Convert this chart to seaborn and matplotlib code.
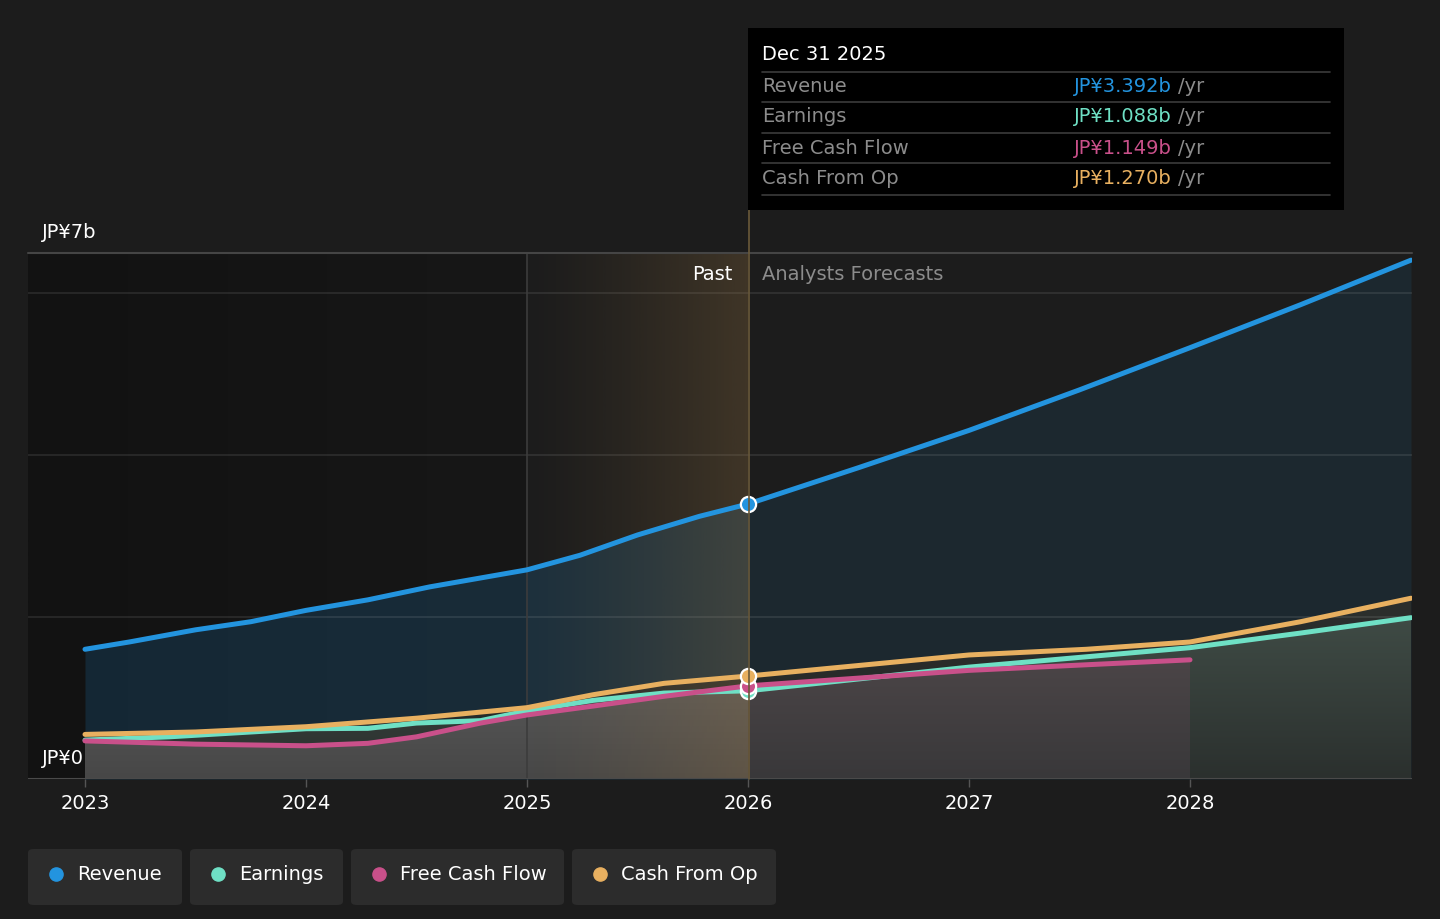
import numpy as np
import pandas as pd
import matplotlib
matplotlib.use("Agg")
import matplotlib.pyplot as plt
from matplotlib.patches import FancyBboxPatch, Rectangle
from matplotlib.lines import Line2D
import seaborn as sns

# ---------------- data (JP¥ billions) ----------------
rev_x = [2023.0, 2023.2, 2023.5, 2023.75, 2024.0, 2024.28, 2024.56, 2025.0, 2025.24, 2025.5, 2025.78, 2026.0,
         2026.5, 2027.0, 2027.5, 2028.0, 2028.5, 2029.0]
rev_y = [1.60, 1.69, 1.84, 1.94, 2.08, 2.21, 2.37, 2.58, 2.76, 3.01, 3.24, 3.392,
         3.84, 4.30, 4.80, 5.32, 5.85, 6.40]

earn_x = [2023.0, 2023.38, 2024.0, 2024.28, 2024.5, 2024.79, 2025.0, 2025.3, 2025.62, 2026.0,
          2027.0, 2028.0, 2028.5, 2029.0]
earn_y = [0.48, 0.52, 0.62, 0.625, 0.69, 0.72, 0.84, 0.97, 1.06, 1.088,
          1.38, 1.62, 1.80, 1.99]

fcf_x = [2023.0, 2023.5, 2024.0, 2024.28, 2024.5, 2024.79, 2025.0, 2025.3, 2025.62, 2026.0, 2027.0, 2028.0]
fcf_y = [0.47, 0.43, 0.41, 0.44, 0.52, 0.69, 0.79, 0.90, 1.02, 1.149, 1.34, 1.47]

cfo_x = [2023.0, 2023.5, 2024.0, 2024.5, 2025.0, 2025.3, 2025.62, 2026.0, 2027.0, 2027.53, 2028.0, 2028.5, 2029.0]
cfo_y = [0.55, 0.58, 0.645, 0.75, 0.88, 1.04, 1.18, 1.27, 1.53, 1.60, 1.69, 1.94, 2.23]

series_names = ["Revenue", "Earnings", "Free Cash Flow", "Cash From Op"]
series_colors = ["#2394df", "#6fe0c5", "#c9508a", "#e8b060"]
tooltip_values = ["JP¥3.392b", "JP¥1.088b", "JP¥1.149b", "JP¥1.270b"]
year_ticks = [2023, 2024, 2025, 2026, 2027, 2028]
y_labels = ["JP¥7b", "JP¥0"]
grid_vals = [2, 4, 6]
past_end = 2025
today = 2026

W, H = 1440, 919
BG = "#1c1c1c"
FS = 14

sns.set_theme(style="dark")
plt.rcParams["font.family"] = ["DejaVu Sans"]

fig = plt.figure(figsize=(W / 100, H / 100), dpi=100, facecolor=BG)

def fx(x):
    return x / W

def fy(y):
    return 1 - y / H

def hex_rgb(h):
    h = h.lstrip("#")
    return np.array([int(h[i:i + 2], 16) for i in (0, 2, 4)]) / 255

ax = fig.add_axes([fx(28), fy(779), (1412 - 28) / W, (779 - 253) / H])
ax.set_facecolor(BG)
x0 = 2023 - 57 / 221
x1 = 2023 + 1327 / 221
ymax = 526 / 81.07

def hgrad(c_left, c_right, alpha_left=1.0, alpha_right=1.0, power=1.0, n=256):
    t = np.linspace(0, 1, n) ** power
    img = np.zeros((1, n, 4))
    a, b = hex_rgb(c_left), hex_rgb(c_right)
    img[0, :, :3] = a + (b - a) * t[:, None]
    img[0, :, 3] = alpha_left + (alpha_right - alpha_left) * t
    return img

def vgrad(c_top, c_bot, n=128):
    t = np.linspace(0, 1, n)
    img = np.zeros((n, 1, 4))
    a, b = hex_rgb(c_bot), hex_rgb(c_top)
    img[:, 0, :3] = a + (b - a) * t[:, None]
    img[:, 0, 3] = 1
    return img

# past darker background
ax.imshow(hgrad("#121212", "#171717"), extent=[x0, past_end, 0, ymax], aspect="auto", zorder=0)

# revenue fills (past brighter, forecast dimmer)
rx = np.array(rev_x); ry = np.array(rev_y)
m_past = rx <= today
m_fc = rx >= today
ax.fill_between(rx[m_past], ry[m_past], 0, color="#2394df", alpha=0.17, lw=0, zorder=1)
ax.fill_between(rx[m_fc], ry[m_fc], 0, color="#2394df", alpha=0.1, lw=0, zorder=1)

def gradient_fill(xs, ys, c_top, c_bot, z, alpha=1.0):
    poly = ax.fill_between(xs, ys, 0, facecolor="none", lw=0)
    top = max(ys)
    im = ax.imshow(vgrad(c_top, c_bot), extent=[min(xs), max(xs), 0, top], origin="lower",
                   aspect="auto", zorder=z, alpha=alpha)
    im.set_clip_path(poly.get_paths()[0], ax.transData)
    return im

gradient_fill(cfo_x, cfo_y, "#2e302d", "#262726", 1.2, alpha=0.9)
gradient_fill(earn_x, earn_y, "#3f4b45", "#2b302e", 1.3)
# free cash flow fill: past (lighter grey) and forecast (warm grey)
fx_arr = np.array(fcf_x); fy_arr = np.array(fcf_y)
gradient_fill(fx_arr[fx_arr <= today], fy_arr[fx_arr <= today], "#575757", "#474747", 1.4)
gradient_fill(fx_arr[fx_arr >= today], fy_arr[fx_arr >= today], "#4b4547", "#39383a", 1.4)

# grid lines (over the fills)
for g in grid_vals:
    ax.axhline(g, color="#ffffff", alpha=0.1, lw=1.2, zorder=1.6)

# highlighted band overlay (brown gradient)
ax.imshow(hgrad("#a07a45", "#a07a45", 0.0, 0.27, power=1.2), extent=[past_end, today, 0, ymax],
          aspect="auto", zorder=1.8)
ax.axvline(past_end, color="#3c3c3c", lw=1.2, zorder=1.9)

ax.set_xlim(x0, x1)
ax.set_ylim(0, ymax)

# lines via seaborn
frames = []
for name, xs, ys in zip(series_names, [rev_x, earn_x, fcf_x, cfo_x], [rev_y, earn_y, fcf_y, cfo_y]):
    frames.append(pd.DataFrame({"year": xs, "value": ys, "series": name}))
df = pd.concat(frames, ignore_index=True)
draw_order = ["Earnings", "Free Cash Flow", "Cash From Op", "Revenue"]
for name in draw_order:
    sub = df[df["series"] == name]
    col = series_colors[series_names.index(name)]
    sns.lineplot(data=sub, x="year", y="value", ax=ax, color=col, lw=3.6,
                 estimator=None, sort=False, legend=False, zorder=3,
                 solid_capstyle="round", solid_joinstyle="round")

# markers at today
for name in ["Earnings", "Free Cash Flow", "Cash From Op", "Revenue"]:
    sub = df[(df["series"] == name) & (df["year"] == float(today))]
    col = series_colors[series_names.index(name)]
    ax.scatter(sub["year"], sub["value"], s=120, color=col, edgecolor="white", linewidth=1.6, zorder=5)

# spines / ticks
for s in ax.spines.values():
    s.set_visible(False)
ax.axhline(ymax, color="#454545", lw=1.5, zorder=2, clip_on=False)
ax.axhline(0, color="#4a4a4a", lw=1.5, zorder=2)
ax.set_xticks(year_ticks)
ax.set_xticklabels([str(t) for t in year_ticks], color="white", fontsize=FS)
ax.tick_params(axis="x", length=6, width=1, color="#555555", pad=5, bottom=True)
ax.set_yticks([])
ax.set_xlabel("")
ax.set_ylabel("")
ax.grid(False)
ax.set_xlim(x0, x1)
ax.set_ylim(0, ymax)

# vertical line at today (extends up to tooltip)
fig.add_artist(Line2D([fx(748.5), fx(748.5)], [fy(779), fy(210)], color="#6b5a3a", lw=1.2, zorder=2))

# y labels
fig.text(fx(42), fy(232), y_labels[0], color="white", fontsize=FS, va="center", ha="left")
fig.text(fx(42), fy(758), y_labels[1], color="white", fontsize=FS, va="center", ha="left")

# Past / forecast labels
fig.text(fx(733), fy(274), "Past", color="white", fontsize=FS, va="center", ha="right")
fig.text(fx(762), fy(274), "Analysts Forecasts", color="#8c8c8c", fontsize=FS, va="center", ha="left")

# tooltip
fig.add_artist(Rectangle((fx(748), fy(210)), (1344 - 748) / W, (210 - 28) / H,
                         transform=fig.transFigure, facecolor="black", edgecolor="none", zorder=4))
fig.text(fx(762), fy(55), "Dec 31 2025", color="white", fontsize=FS, va="center", ha="left", zorder=5)
for yl in [72, 102, 133, 163, 195]:
    fig.add_artist(Line2D([fx(762), fx(1330)], [fy(yl), fy(yl)], color="#3c3c3c", lw=1.2, zorder=5))
row_y = [87, 117, 148, 178]
for yy, name, val, col in zip(row_y, series_names, tooltip_values, series_colors):
    fig.text(fx(762), fy(yy), name, color="#8c8c8c", fontsize=FS, va="center", ha="left", zorder=5)
    t = fig.text(fx(1074), fy(yy), val, color=col, fontsize=FS, va="center", ha="left", zorder=5)
    fig.canvas.draw()
    bb = t.get_window_extent()
    fig.text(bb.x1 / W + fx(6), fy(yy), "/yr", color="#8c8c8c", fontsize=FS, va="center", ha="left", zorder=5)

# legend buttons
boxes = [(28, 182), (190, 343), (351, 564), (572, 776)]
for (bx0, bx1), name, col in zip(boxes, series_names, series_colors):
    fig.add_artist(FancyBboxPatch((fx(bx0), fy(905)), (bx1 - bx0) / W, (905 - 849) / H,
                                  boxstyle="round,pad=0,rounding_size=0.004",
                                  transform=fig.transFigure, facecolor="#2c2c2c", edgecolor="none"))
    fig.add_artist(Line2D([fx(bx0 + 28)], [fy(874)], marker="o", markersize=9.5, color=col, lw=0))
    fig.text(fx(bx0 + 49), fy(874), name, color="white", fontsize=FS, va="center", ha="left")

fig.savefig("out.png", dpi=100, facecolor=BG)
